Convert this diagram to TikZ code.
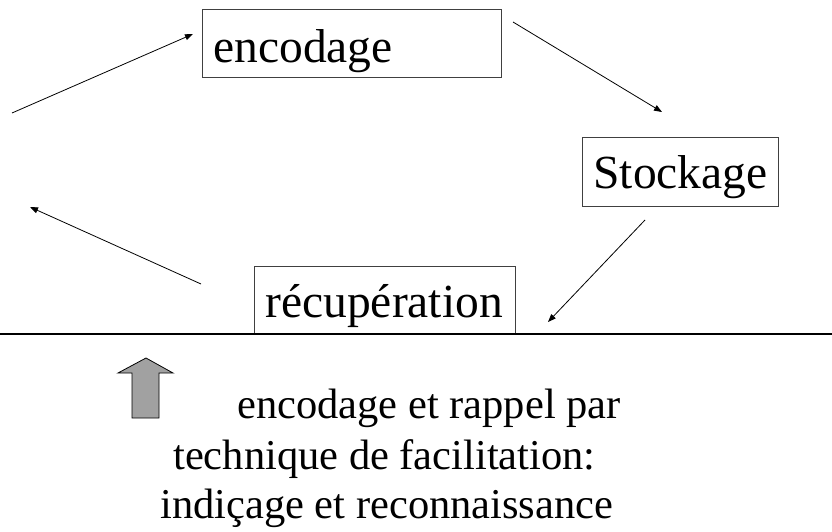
\documentclass[tikz,border=0pt]{standalone}
\usepackage{fontspec}
\setmainfont{Liberation Serif}
\usetikzlibrary{arrows.meta}
\tikzset{
  stagebox/.style={draw=black!75, line width=0.9pt, anchor=north west,
    inner xsep=11pt, inner ysep=0pt, align=left,
    font=\fontsize{47.5}{52}\selectfont},
  cyclearrow/.style={line width=0.8pt, -{Triangle[length=8pt,width=6pt]}},
  notetext/.style={anchor=base west, inner sep=0pt,
    font=\fontsize{42.5}{48}\selectfont},
  hintarrow/.style={draw=black, line width=0.8pt, fill=black!37},
}
\begin{document}
\begin{tikzpicture}[x=1pt, y=-1pt]
\useasboundingbox (0,0) rectangle (832,532);

% the three stages of memory
\node[stagebox, text width=277pt, text height=53pt, text depth=15pt] (enc) at (202,9) {encodage};
\node[stagebox, text width=174pt, text height=51pt, text depth=18pt] (sto) at (582,137) {Stockage};
\node[stagebox, text width=239pt, text height=51pt, text depth=16pt] (rec) at (254,266) {récupération};

% ends of the cycle arrows
\coordinate (a1s) at (12,113);  \coordinate (a1e) at (193,34);
\coordinate (a2s) at (513,22);  \coordinate (a2e) at (662,112);
\coordinate (a3s) at (645,220); \coordinate (a3e) at (548,322);
\coordinate (a4s) at (201,284); \coordinate (a4e) at (30,207);

\draw[cyclearrow] (a1s) -- (a1e);
\draw[cyclearrow] (a2s) -- (a2e);
\draw[cyclearrow] (a3s) -- (a3e);
\draw[cyclearrow] (a4s) -- (a4e);

% separating rule
\coordinate (ruleL) at (0,334);
\coordinate (ruleR) at (832,334);
\draw[line width=1.3pt] (ruleL) -- (ruleR);

% block arrow pointing up
\draw[hintarrow] (146,358) -- (173,373) -- (159,373) -- (159,418)
  -- (132,418) -- (132,373) -- (118,373) -- cycle;

% note below the rule
\node[notetext] (note1) at (237,418) {encodage et rappel par};
\node[notetext] (note2) at (173,469) {technique de facilitation:};
\node[notetext] (note3) at (160,518) {indiçage et reconnaissance};
\end{tikzpicture}
\end{document}
